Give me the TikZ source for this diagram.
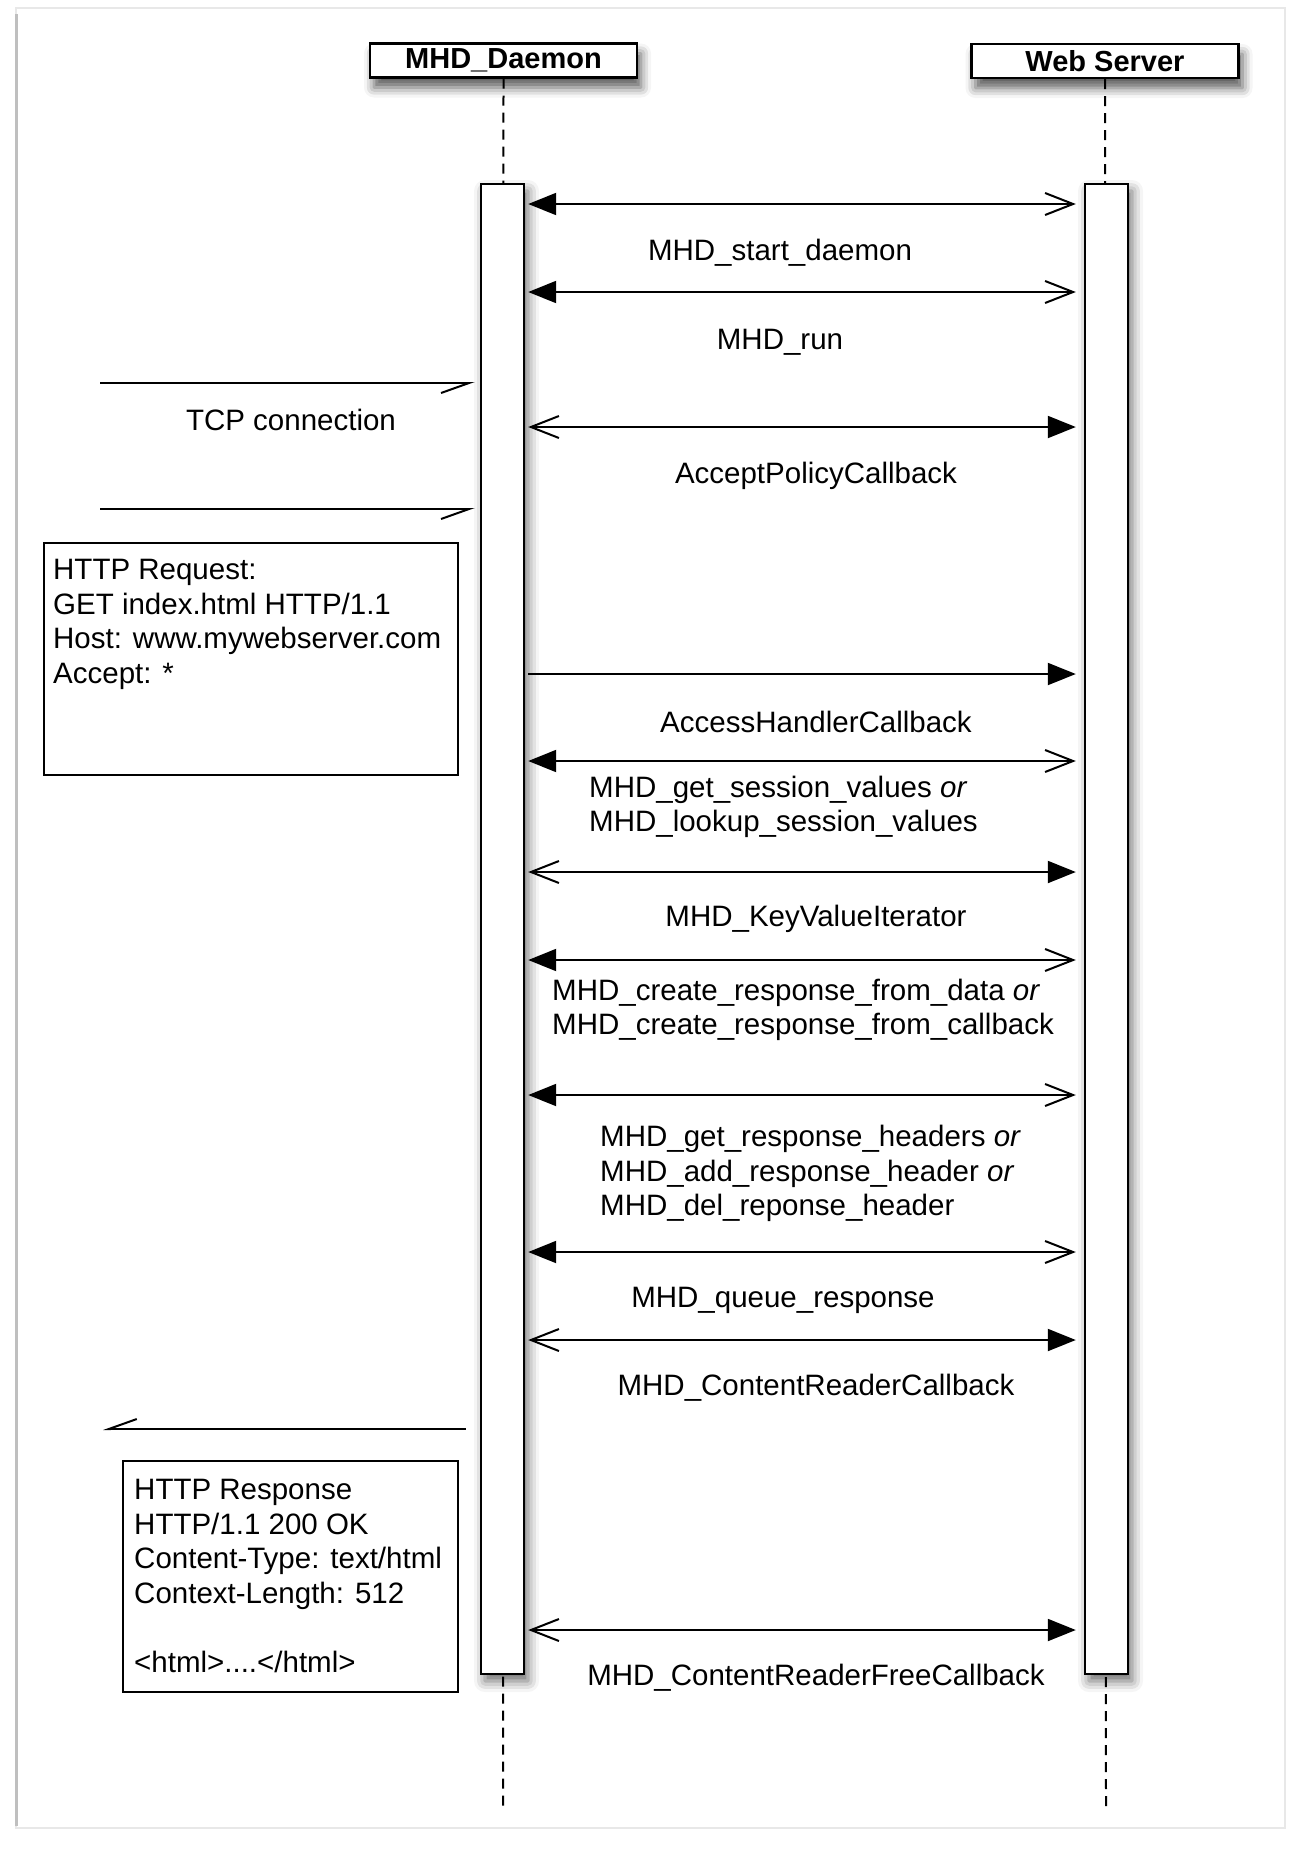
\documentclass[tikz,border=0pt]{standalone}
\usepackage{fontspec}
\setmainfont{Liberation Sans}
\usetikzlibrary{arrows.meta,shadows.blur}

\begin{document}
\begin{tikzpicture}[
  x=1pt, y=-1pt,
  lifehead/.style={
    rectangle, draw=black, line width=2.4pt, fill=white,
    minimum width=267pt, minimum height=34pt, inner sep=0pt,
    font=\fontsize{29}{34}\selectfont\bfseries,
    blur shadow={shadow xshift=4pt, shadow yshift=-10pt,
      shadow blur radius=10pt, shadow opacity=65}
  },
  actbar/.style={
    rectangle, draw=black, line width=2.4pt, fill=white,
    minimum width=43pt, minimum height=1490pt, inner sep=0pt,
    blur shadow={shadow xshift=4pt, shadow yshift=-7pt,
      shadow blur radius=11pt, shadow opacity=60}
  },
  lifeline/.style={line width=2pt, dash pattern=on 10pt off 7pt},
  fillhead/.tip={Triangle[length=28pt, width=22pt]},
  openhead/.tip={Straight Barb[length=28pt, width=22pt]},
  halfhead/.tip={Straight Barb[right, length=28pt, width=20pt]},
  callmsg/.style={line width=2pt, shorten <=3pt, shorten >=8pt},
  extmsg/.style={line width=2pt, -{halfhead}},
  msglabel/.style={font=\fontsize{29.5}{34.5}\selectfont, inner sep=0pt},
  notebox/.style={rectangle, draw=black, line width=2pt, anchor=north west, inner sep=0pt},
  notetext/.style={font=\fontsize{29.5}{34.5}\selectfont, align=left,
    anchor=north west, inner sep=0pt}
]
\useasboundingbox (0,0) rectangle (1303,1864);

% frame
\draw[gray!18, line width=1.5pt] (16,8) rectangle (1285,1828);
\draw[gray!50, line width=3pt] (16,14) -- (16,1826);

% participants and lifelines
\node[lifehead] (daemon) at (503.5,60.5) {MHD\_Daemon};
\node[lifehead] (server) at (1105,61) {Web Server};
\coordinate (daemonend) at (503,1809);
\coordinate (serverend) at (1106,1809);
\draw[lifeline] (daemon.south) -- (daemonend);
\draw[lifeline] (server.south) -- (serverend);

\node[actbar] (daemonbar) at (502.5,929) {};
\node[actbar] (serverbar) at (1106.5,929) {};

% calls between daemon and web server
\draw[callmsg, {fillhead}-{openhead}] (daemonbar.east |- 0,204) -- (serverbar.west |- 0,204);
\node[msglabel] (l1) at (780,253) {MHD\_start\_daemon};
\draw[callmsg, {fillhead}-{openhead}] (daemonbar.east |- 0,292) -- (serverbar.west |- 0,292);
\node[msglabel] (l2) at (780,342) {MHD\_run};
\draw[callmsg, {openhead}-{fillhead}] (daemonbar.east |- 0,427) -- (serverbar.west |- 0,427);
\node[msglabel] (l3) at (816,476) {AcceptPolicyCallback};
\draw[callmsg, -{fillhead}] (daemonbar.east |- 0,674) -- (serverbar.west |- 0,674);
\node[msglabel] (l4) at (816,722) {AccessHandlerCallback};
\draw[callmsg, {fillhead}-{openhead}] (daemonbar.east |- 0,761) -- (serverbar.west |- 0,761);
\node[msglabel, align=left, anchor=west] (l5) at (589,807)
  {MHD\_get\_session\_values \textit{or}\\MHD\_lookup\_session\_values};
\draw[callmsg, {openhead}-{fillhead}] (daemonbar.east |- 0,872) -- (serverbar.west |- 0,872);
\node[msglabel] (l6) at (816,919) {MHD\_KeyValueIterator};
\draw[callmsg, {fillhead}-{openhead}] (daemonbar.east |- 0,960) -- (serverbar.west |- 0,960);
\node[msglabel, align=left, anchor=west] (l7) at (552,1010)
  {MHD\_create\_response\_from\_data \textit{or}\\MHD\_create\_response\_from\_callback};
\draw[callmsg, {fillhead}-{openhead}] (daemonbar.east |- 0,1095) -- (serverbar.west |- 0,1095);
\node[msglabel, align=left, anchor=west] (l8) at (600,1173.5)
  {MHD\_get\_response\_headers \textit{or}\\MHD\_add\_response\_header \textit{or}\\MHD\_del\_reponse\_header};
\draw[callmsg, {fillhead}-{openhead}] (daemonbar.east |- 0,1252) -- (serverbar.west |- 0,1252);
\node[msglabel] (l9) at (783,1300) {MHD\_queue\_response};
\draw[callmsg, {openhead}-{fillhead}] (daemonbar.east |- 0,1340) -- (serverbar.west |- 0,1340);
\node[msglabel] (l10) at (816,1388) {MHD\_ContentReaderCallback};
\draw[callmsg, {openhead}-{fillhead}] (daemonbar.east |- 0,1630) -- (serverbar.west |- 0,1630);
\node[msglabel] (l11) at (816,1678) {MHD\_ContentReaderFreeCallback};

% network side
\coordinate (tcpin) at (100,383);
\coordinate (reqin) at (100,509);
\coordinate (respout) at (103,1429);
\draw[extmsg, shorten >=5pt] (tcpin) -- (daemonbar.west |- tcpin);
\node[msglabel] (tcplabel) at (291,420) {TCP connection};
\draw[extmsg, shorten >=5pt] (reqin) -- (daemonbar.west |- reqin);
\draw[extmsg, shorten <=14pt] (daemonbar.west |- respout) -- (respout);

% request and response notes
\node[notebox, minimum width=414pt, minimum height=232pt] (reqbox) at (43,542) {};
\node[notetext] (reqtext) at (53,559)
  {HTTP Request:\\GET index.html HTTP/1.1\\Host: www.mywebserver.com\\Accept: *};
\node[notebox, minimum width=335pt, minimum height=231pt] (respbox) at (122,1460) {};
\node[notetext] (resptext) at (134,1479)
  {HTTP Response\\HTTP/1.1 200 OK\\Content-Type: text/html\\Context-Length: 512\\[34.5pt]<html>....</html>};
\end{tikzpicture}
\end{document}
